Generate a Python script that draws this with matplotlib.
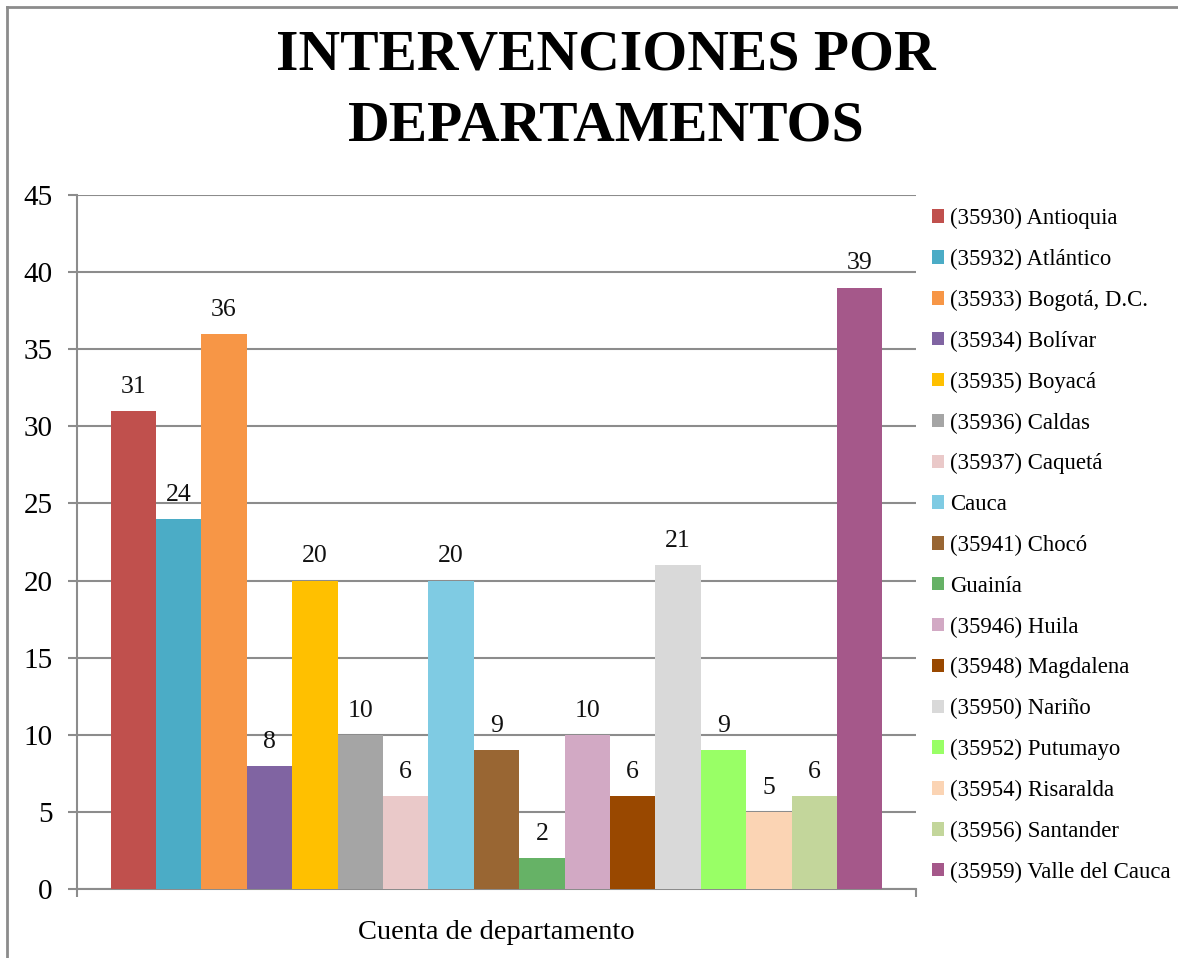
import matplotlib
matplotlib.use("Agg")
import matplotlib.pyplot as plt
from matplotlib.patches import Patch
from matplotlib.lines import Line2D

departamentos = ["(35930) Antioquia", "(35932) Atlántico", "(35933) Bogotá, D.C.",
                 "(35934) Bolívar", "(35935) Boyacá", "(35936) Caldas",
                 "(35937) Caquetá", "Cauca", "(35941) Chocó", "Guainía",
                 "(35946) Huila", "(35948) Magdalena", "(35950) Nariño",
                 "(35952) Putumayo", "(35954) Risaralda", "(35956) Santander",
                 "(35959) Valle del Cauca"]
valores = [31, 24, 36, 8, 20, 10, 6, 20, 9, 2, 10, 6, 21, 9, 5, 6, 39]
colores = ["#C0504D", "#4BACC6", "#F79646", "#8064A2", "#FFC000", "#A5A5A5",
           "#EAC9C9", "#7FCBE3", "#996633", "#66B266", "#D2A9C4", "#994800",
           "#D9D9D9", "#99FF66", "#FBD4B4", "#C3D69B", "#A5588A"]
categoria = "Cuenta de departamento"
titulo = "INTERVENCIONES POR\nDEPARTAMENTOS"
yticks = [0, 5, 10, 15, 20, 25, 30, 35, 40, 45]

plt.rcParams['font.family'] = ['Liberation Serif', 'DejaVu Serif']

W, H = 1178, 958
fig = plt.figure(figsize=(W / 100, H / 100), dpi=100)

# outer frame (left and top)
fig.add_artist(Line2D([7 / W, 7 / W], [0, 1 - 7 / H], transform=fig.transFigure,
                      color="#8C8C8C", lw=2))
fig.add_artist(Line2D([7 / W, 1], [1 - 7 / H, 1 - 7 / H], transform=fig.transFigure,
                      color="#8C8C8C", lw=2))

x0, x1 = 77, 916
ytop, ybot = 195, 889
ax = fig.add_axes([x0 / W, 1 - ybot / H, (x1 - x0) / W, (ybot - ytop) / H])

n = len(valores)
pos = list(range(n))
ax.bar(pos, valores, width=1.0, color=colores, zorder=3, linewidth=0)

for p, v in zip(pos, valores):
    ax.text(p, v + 0.85, str(v), ha="center", va="bottom", fontsize=18.5,
            color="#111111", zorder=4)

margin = 0.74
ax.set_xlim(-0.5 - margin, n - 0.5 + margin)
ax.set_ylim(0, 45)
ax.set_yticks(yticks)
ax.yaxis.grid(True, color="#8C8C8C", lw=1.5, zorder=1)
ax.set_axisbelow(True)

ax.set_xticks([-0.5 - margin, n - 0.5 + margin])
ax.set_xticklabels(["", ""])
ax.tick_params(axis="x", length=6, width=1.5, color="#8C8C8C", direction="out")
ax.tick_params(axis="y", length=6.5, width=1.5, color="#8C8C8C", direction="out",
               labelsize=21, pad=11)

for s in ["top", "right"]:
    ax.spines[s].set_visible(False)
for s in ["left", "bottom"]:
    ax.spines[s].set_color("#8C8C8C")
    ax.spines[s].set_linewidth(1.5)

ax.text((n - 1) / 2, -0.045, categoria, transform=ax.get_xaxis_transform(),
        ha="center", va="top", fontsize=20.5)

fig.text(606 / W, 1 - 91 / H, titulo, ha="center", va="center", fontsize=41.5,
         fontweight="bold", linespacing=1.48)

handles = [Patch(facecolor=c, edgecolor="none") for c in colores]
fig.legend(handles, departamentos, loc="upper left",
           bbox_to_anchor=(932 / W, 1 - 208 / H), frameon=False,
           fontsize=16.4, handlelength=0.53, handleheight=0.53,
           handletextpad=0.27, labelspacing=0.865, borderaxespad=0,
           borderpad=0)

fig.savefig("out.png", dpi=100, facecolor="white")
